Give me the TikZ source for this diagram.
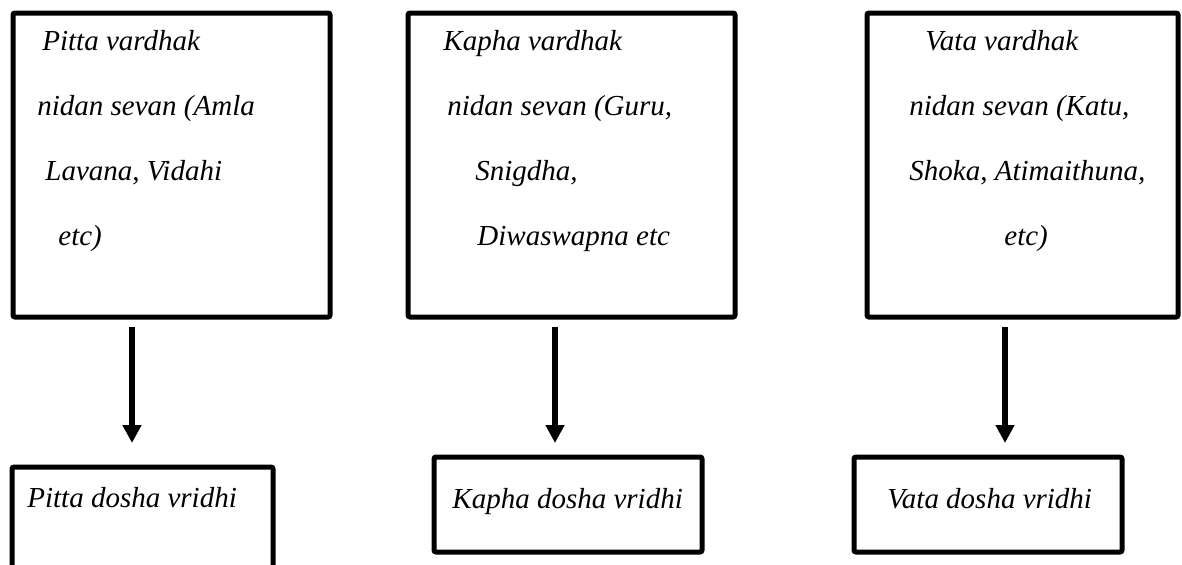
\documentclass[tikz,border=0pt]{standalone}
\usepackage{fontspec}
\setmainfont{Liberation Serif}
\usetikzlibrary{arrows.meta}
\tikzset{
  box/.style={draw,line width=2.5pt,rounded corners=1pt,inner sep=0,outer sep=0},
  txt/.style={anchor=base west,inner sep=0,font=\fontsize{14.5}{17}\selectfont\itshape},
  flow/.style={line width=3pt,-{Triangle[length=9pt,width=9pt]}}
}

\begin{document}
\begin{tikzpicture}[x=0.5pt,y=-0.5pt]
      \useasboundingbox (0,0) rectangle (1182,564);
      % nidan boxes
      \node[box,minimum width=158.5pt,minimum height=152pt] (top1) at (171.5,165) {};
      \node[box,minimum width=163.5pt,minimum height=152pt] (top2) at (571.5,165) {};
      \node[box,minimum width=155.5pt,minimum height=152pt] (top3) at (1022.5,165) {};
      \node[txt] (p1) at (42,50) {Pitta vardhak};
      \node[txt] (p2) at (37,115) {nidan sevan (Amla};
      \node[txt] (p3) at (45,180) {Lavana, Vidahi};
      \node[txt] (p4) at (58,245) {etc)};
      \node[txt] (k1) at (443,50) {Kapha vardhak};
      \node[txt] (k2) at (447,115) {nidan sevan (Guru,};
      \node[txt] (k3) at (475,180) {Snigdha,};
      \node[txt] (k4) at (477,245) {Diwaswapna etc};
      \node[txt] (v1) at (925,50) {Vata vardhak};
      \node[txt] (v2) at (909,115) {nidan sevan (Katu,};
      \node[txt] (v3) at (909,180) {Shoka, Atimaithuna,};
      \node[txt] (v4) at (1004,245) {etc)};
      % dosha boxes
      \node[box,minimum width=130.5pt,minimum height=56.5pt] (bot1) at (142.5,523.5) {};
      \node[box,minimum width=134pt,minimum height=47.5pt] (bot2) at (568,504.5) {};
      \node[box,minimum width=134pt,minimum height=47.5pt] (bot3) at (988,504.5) {};
      \node[txt] (pd) at (27,507) {Pitta dosha vridhi};
      \node[txt] (kd) at (452,508) {Kapha dosha vridhi};
      \node[txt] (vd) at (887,508) {Vata dosha vridhi};
      \foreach \i/\x/\g in {1/132/12pt,2/555/7pt,3/1005/7pt}
        {\coordinate (c\i) at (\x,0);
         \draw[flow,shorten <=5pt,shorten >=\g] (top\i.south -| c\i) -- (bot\i.north -| c\i);}
    \end{tikzpicture}
\end{document}
